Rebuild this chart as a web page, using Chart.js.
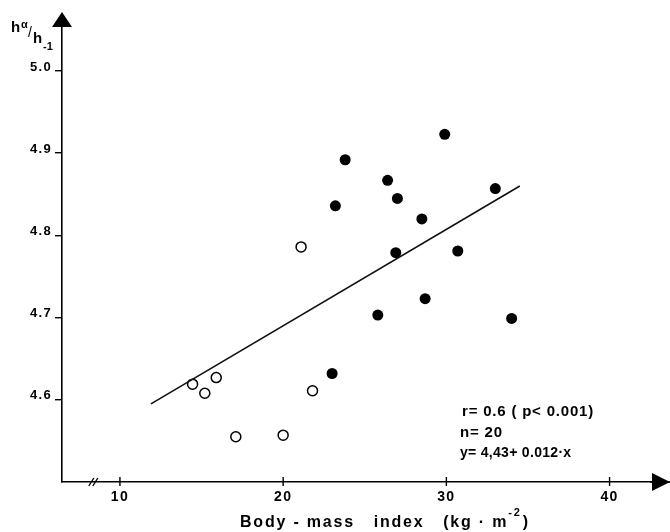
<!DOCTYPE html>
<html>
<head>
<meta charset="utf-8">
<script src="https://cdn.jsdelivr.net/npm/chart.js@4/dist/chart.umd.min.js"></script>
<style>
  html, body { margin: 0; padding: 0; background: #fff; }
  #wrap { width: 670px; height: 532px; }
</style>
</head>
<body>
<div id="wrap"><canvas id="c" width="670" height="532"></canvas></div>
<script>
// ------------------------------------------------------------
// Data
// ------------------------------------------------------------
// filled circles
const bmiFilled   = [23.8, 29.9, 26.4, 27.0, 23.2, 28.5, 33.0, 26.9, 30.7, 28.7, 25.8, 34.0, 23.0];
const ratioFilled = [4.892, 4.923, 4.867, 4.845, 4.836, 4.820, 4.857, 4.779, 4.781, 4.723, 4.703, 4.699, 4.632];
// open circles
const bmiOpen   = [14.45, 15.2, 15.9, 17.1, 20.0, 21.8, 21.1];
const ratioOpen = [4.619, 4.608, 4.627, 4.555, 4.557, 4.611, 4.786];
// regression line as drawn (ends)
const fitX = [11.9, 34.5];
const fitY = [4.595, 4.860];

const xTicks = [10, 20, 30, 40];
const yTicks = [4.6, 4.7, 4.8, 4.9, 5.0];
const xRange = [6.45, 42.6];
const yRange = [4.5, 5.062];
const breakAt = 8.4;

const statLines = ['r= 0.6 ( p< 0.001)', 'n= 20', 'y= 4,43+ 0.012·x'];

const pts = (xs, ys) => xs.map((x, i) => ({ x, y: ys[i] }));
const FONT = '"Liberation Sans", Arial, sans-serif';

// ------------------------------------------------------------
// Hand-drawn bits: arrows, inward x ticks, axis break, labels
// ------------------------------------------------------------
const decor = {
  id: 'decor',
  beforeDraw(chart) { chart.ctx.letterSpacing = '1.3px'; },
  afterDraw(chart) {
    const { ctx, chartArea: a, scales: { x, y } } = chart;
    ctx.save();
    ctx.letterSpacing = '0px';
    ctx.fillStyle = '#000';
    ctx.strokeStyle = '#000';
    ctx.lineWidth = 1.6;

    // arrow heads
    ctx.beginPath();
    ctx.moveTo(a.left, a.top - 8);
    ctx.lineTo(a.left - 10, a.top + 7);
    ctx.lineTo(a.left + 10, a.top + 7);
    ctx.closePath();
    ctx.fill();
    ctx.beginPath();
    ctx.moveTo(a.right - 2, a.bottom);
    ctx.lineTo(a.right + 18, a.bottom);
    ctx.stroke();
    ctx.beginPath();
    ctx.moveTo(670, a.bottom);
    ctx.lineTo(652, a.bottom - 9);
    ctx.lineTo(652, a.bottom + 9);
    ctx.closePath();
    ctx.fill();

    // x ticks crossing the axis
    ctx.lineWidth = 1.4;
    xTicks.forEach(v => {
      const px = x.getPixelForValue(v);
      ctx.beginPath();
      ctx.moveTo(px, a.bottom - 5);
      ctx.lineTo(px, a.bottom + 4);
      ctx.stroke();
    });

    // axis break //
    const bx = x.getPixelForValue(breakAt);
    [-2, 2].forEach(d => {
      ctx.beginPath();
      ctx.moveTo(bx + d - 3, a.bottom + 4);
      ctx.lineTo(bx + d + 2, a.bottom - 4);
      ctx.stroke();
    });

    // y axis label  h_a / h_-1
    ctx.textBaseline = 'alphabetic';
    ctx.textAlign = 'left';
    ctx.font = 'bold 15px ' + FONT;
    ctx.fillText('h', 11, 32);
    ctx.font = 'bold 11px ' + FONT;
    ctx.fillText('α', 21, 28);
    ctx.font = '14px ' + FONT;
    ctx.fillText('/', 28, 37);
    ctx.font = 'bold 15px ' + FONT;
    ctx.fillText('h', 33, 43);
    ctx.font = 'bold 11px ' + FONT;
    ctx.fillText('-1', 43, 50);

    // x axis title
    ctx.letterSpacing = '1.8px';
    let tx = 240;
    ctx.font = 'bold 16px ' + FONT;
    const part1 = 'Body - mass   index   (kg · m';
    ctx.fillText(part1, tx, 527);
    tx += ctx.measureText(part1).width;
    ctx.font = 'bold 11px ' + FONT;
    ctx.fillText('-2', tx, 516);
    tx += ctx.measureText('-2').width + 1;
    ctx.font = 'bold 16px ' + FONT;
    ctx.fillText(')', tx, 527);

    // statistics box
    ctx.letterSpacing = '0.8px';
    ctx.font = 'bold 15px ' + FONT;
    ctx.fillText(statLines[0], 462, 416);
    ctx.fillText(statLines[1], 460, 437);
    ctx.font = 'bold 14px ' + FONT;
    ctx.letterSpacing = '0.3px';
    ctx.fillText(statLines[2], 460, 457);

    ctx.restore();
  }
};

new Chart(document.getElementById('c'), {
  type: 'scatter',
  data: {
    datasets: [
      {
        label: 'fit',
        type: 'line',
        data: pts(fitX, fitY),
        borderColor: '#111',
        borderWidth: 1.6,
        pointRadius: 0,
        fill: false,
        tension: 0
      },
      {
        label: 'filled',
        data: pts(bmiFilled, ratioFilled),
        pointRadius: 5.5,
        pointBackgroundColor: '#000',
        pointBorderColor: '#000',
        pointBorderWidth: 0
      },
      {
        label: 'open',
        data: pts(bmiOpen, ratioOpen),
        pointRadius: 5,
        pointBackgroundColor: '#fff',
        pointBorderColor: '#000',
        pointBorderWidth: 1.5
      }
    ]
  },
  options: {
    responsive: false,
    animation: false,
    devicePixelRatio: 1,
    layout: { padding: { top: 20, right: 18, left: 0, bottom: 0 } },
    plugins: { legend: { display: false }, tooltip: { enabled: false } },
    scales: {
      x: {
        type: 'linear',
        min: xRange[0],
        max: xRange[1],
        afterBuildTicks: s => { s.ticks = xTicks.map(v => ({ value: v })); },
        afterFit: s => { s.height = 50; },
        grid: { display: false, drawTicks: false },
        border: { display: true, color: '#000', width: 1.6 },
        ticks: {
          padding: 7,
          color: '#000',
          font: { family: FONT, size: 14, weight: 'bold' },
          maxRotation: 0
        }
      },
      y: {
        type: 'linear',
        min: yRange[0],
        max: yRange[1],
        afterBuildTicks: s => { s.ticks = yTicks.map(v => ({ value: v })); },
        afterFit: s => { s.width = 62; },
        grid: { display: true, drawOnChartArea: false, drawTicks: true, tickLength: 7, color: '#000', lineWidth: 1.4 },
        border: { display: true, color: '#000', width: 1.6 },
        ticks: {
          padding: 3,
          labelOffset: -4,
          color: '#000',
          font: { family: FONT, size: 13, weight: 'bold' },
          callback: v => v.toFixed(1)
        }
      }
    }
  },
  plugins: [decor]
});
</script>
</body>
</html>
